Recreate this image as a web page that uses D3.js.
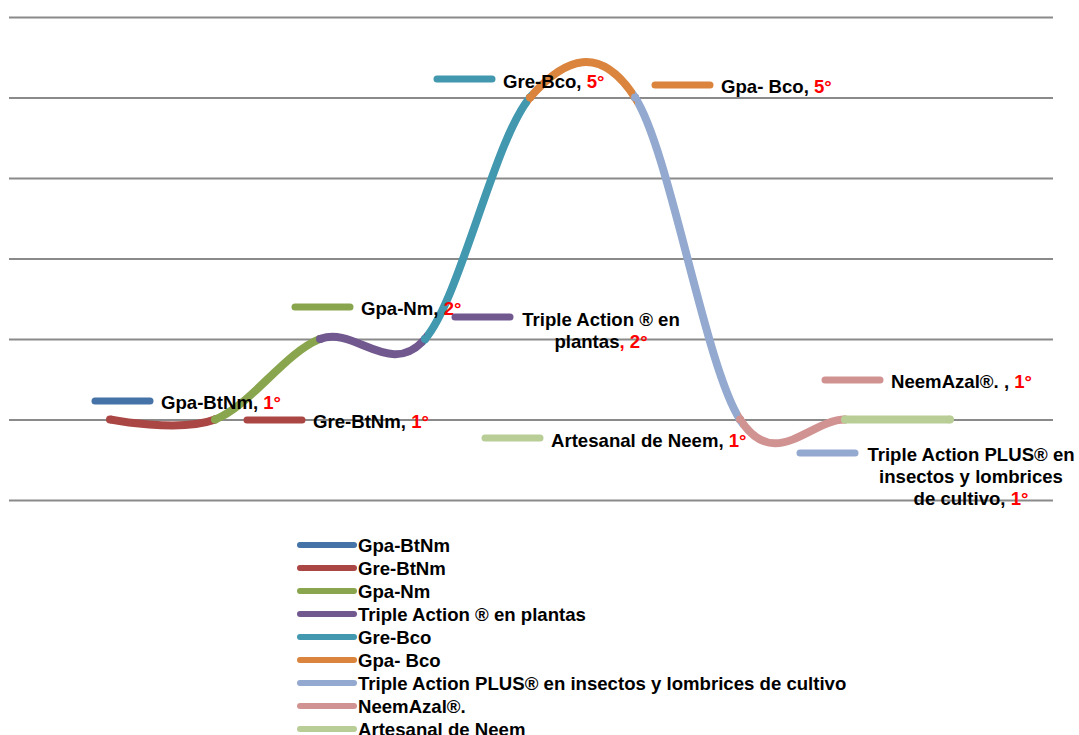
<!DOCTYPE html>
<html>
<head>
<meta charset="utf-8">
<script src="https://cdn.jsdelivr.net/npm/d3@7/dist/d3.min.js"></script>
<style>
  html, body { margin: 0; padding: 0; background: #fff; }
  svg text { font-family: "Liberation Sans", Arial, sans-serif; font-weight: bold; font-size: 18.6px; fill: #000; }
</style>
</head>
<body>
<svg id="chart" width="1079" height="735"></svg>
<script>
// Series, in legend order; each one owns the stretch of the curve ending at its category.
const categorias = ['c1', 'c2', 'c3', 'c4', 'c5', 'c6', 'c7', 'c8', 'c9'];
const series = [
  'Gpa-BtNm', 'Gre-BtNm', 'Gpa-Nm', 'Triple Action ® en plantas', 'Gre-Bco',
  'Gpa- Bco', 'Triple Action PLUS® en insectos y lombrices de cultivo', 'NeemAzal®.', 'Artesanal de Neem'
];
const valores = [1, 1, 2, 2, 5, 5, 1, 1, 1];
const colores = ['#4572A7', '#AA4643', '#89A54E', '#71588F', '#4198AF', '#DB843D', '#93A9CF', '#D19392', '#B9CD96'];
const yTicks = [0, 1, 2, 3, 4, 5, 6];

// Data label placement (moved by hand in the original, so kept as layout here).
const etiquetas = [
  { sx: 95,  sy: 401, tx: 161, ty: 402, anchor: 'start',  lines: [['Gpa-BtNm, ', '1°']] },
  { sx: 247, sy: 420, tx: 313, ty: 421, anchor: 'start',  lines: [['Gre-BtNm, ', '1°']] },
  { sx: 295, sy: 307, tx: 361, ty: 308, anchor: 'start',  lines: [['Gpa-Nm, ', '2°']] },
  { sx: 455, sy: 317, tx: 601, ty: 319, anchor: 'middle', lines: [['Triple Action ® en', ''], ['plantas', ', 2°']] },
  { sx: 437, sy: 79,  tx: 503, ty: 81,  anchor: 'start',  lines: [['Gre-Bco, ', '5°']] },
  { sx: 655, sy: 85,  tx: 721, ty: 86,  anchor: 'start',  lines: [['Gpa- Bco, ', '5°']] },
  { sx: 800, sy: 453, tx: 971, ty: 454, anchor: 'middle', lines: [['Triple Action PLUS® en', ''], ['insectos y lombrices', ''], ['de cultivo, ', '1°']] },
  { sx: 825, sy: 380, tx: 891, ty: 381, anchor: 'start',  lines: [['NeemAzal®. , ', '1°']] },
  { sx: 485, sy: 438, tx: 551, ty: 440, anchor: 'start',  lines: [['Artesanal de Neem, ', '1°']] },
];

const svg = d3.select('#chart');
const LW = 8;

const x = d3.scalePoint().domain(categorias).range([110, 950]);
const y = d3.scaleLinear().domain([0, 6]).range([500, 17]);

// horizontal gridlines
const grid = svg.append('g')
  .attr('transform', 'translate(9,0)')
  .call(d3.axisLeft(y).tickValues(yTicks).tickSize(-1044).tickFormat(''));
grid.select('.domain').remove();
grid.selectAll('line').attr('stroke', '#8a8a8a').attr('stroke-width', 2);

const puntos = categorias.map((c, i) => [x(c), y(valores[i])]);
const linea = d3.line().curve(d3.curveCardinal.tension(0));
const dFull = linea(puntos);

const defs = svg.append('defs');
series.forEach((s, i) => {
  if (i === 0) return; // single point, no visible segment
  const x0 = puntos[i - 1][0], x1 = puntos[i][0];
  defs.append('clipPath').attr('id', 'seg' + i)
    .append('rect')
      .attr('x', x0).attr('y', 0)
      .attr('width', x1 - x0).attr('height', 735);
  const g = svg.append('g');
  g.append('path')
    .attr('d', dFull)
    .attr('clip-path', `url(#seg${i})`)
    .attr('fill', 'none')
    .attr('stroke', colores[i])
    .attr('stroke-width', LW);
  [puntos[i - 1], puntos[i]].forEach(p => {
    g.append('circle').attr('cx', p[0]).attr('cy', p[1]).attr('r', LW / 2).attr('fill', colores[i]);
  });
});

// data labels with legend key
etiquetas.forEach((e, i) => {
  const g = svg.append('g');
  g.append('line')
    .attr('x1', e.sx).attr('x2', e.sx + 55)
    .attr('y1', e.sy).attr('y2', e.sy)
    .attr('stroke', colores[i]).attr('stroke-width', 7).attr('stroke-linecap', 'round');
  e.lines.forEach((ln, j) => {
    const t = g.append('text')
      .attr('x', e.tx).attr('y', e.ty + j * 22)
      .attr('dy', '0.36em')
      .attr('text-anchor', e.anchor);
    t.append('tspan').text(ln[0]);
    if (ln[1]) t.append('tspan').attr('fill', '#ff0000').text(ln[1]);
  });
});

// legend
const leg = svg.append('g');
series.forEach((s, i) => {
  const yy = 545 + i * 23;
  leg.append('line')
    .attr('x1', 300).attr('x2', 354)
    .attr('y1', yy).attr('y2', yy)
    .attr('stroke', colores[i]).attr('stroke-width', 6).attr('stroke-linecap', 'round');
  leg.append('text')
    .attr('x', 358).attr('y', yy).attr('dy', '0.36em')
    .text(s);
});
</script>
</body>
</html>
